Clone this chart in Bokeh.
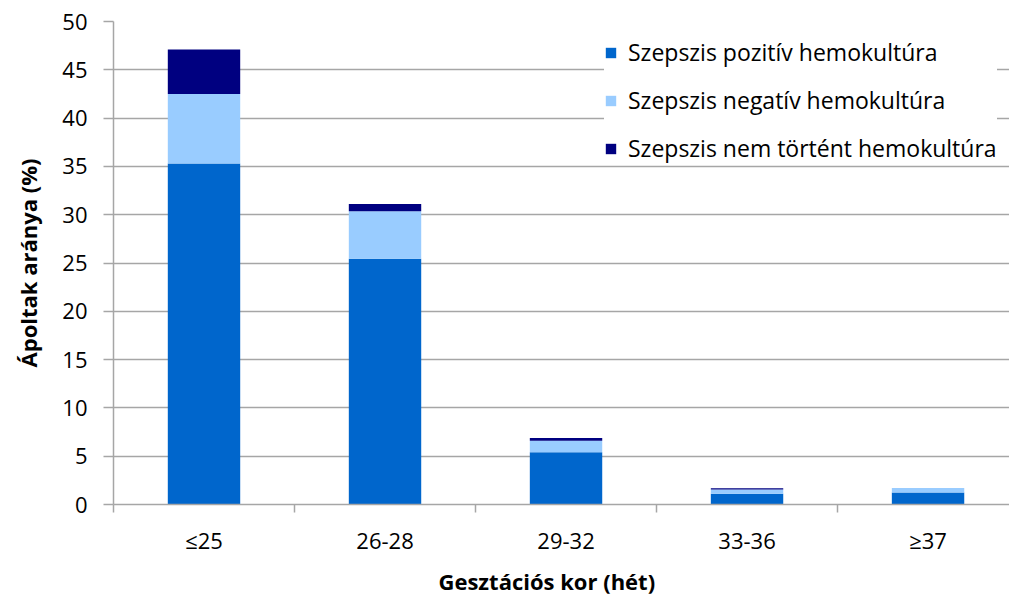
from bokeh.plotting import figure
from bokeh.models import ColumnDataSource, Range1d, FixedTicker, Legend, LegendItem, Title
from bokeh.embed import file_html
from bokeh.resources import INLINE

categories = ["≤25", "26-28", "29-32", "33-36", "≥37"]
pozitiv = [35.3, 25.45, 5.4, 1.1, 1.25]
negativ = [7.2, 4.9, 1.2, 0.45, 0.45]
nem_tortent = [4.6, 0.75, 0.28, 0.14, 0.0]
series_names = ["Szepszis pozitív hemokultúra", "Szepszis negatív hemokultúra", "Szepszis nem történt hemokultúra"]
colors = ["#0066CC", "#99CCFF", "#000080"]
y_ticks = [0, 5, 10, 15, 20, 25, 30, 35, 40, 45, 50]

FONT = "Open Sans"
FS = "22px"

source = ColumnDataSource(data=dict(
    x=list(range(len(categories))),
    pozitiv=pozitiv, negativ=negativ, nem=nem_tortent,
))

p = figure(width=1009, height=599, output_backend="svg", toolbar_location=None,
           x_range=Range1d(-0.5, 4.45), y_range=Range1d(0, 50),
           min_border_left=113, min_border_right=0, min_border_top=21, min_border_bottom=95)
p.frame_width = 896
p.frame_height = 483
p.outline_line_color = None

renderers = p.vbar_stack(["pozitiv", "negativ", "nem"], x="x", width=0.4, source=source,
                         color=colors, line_color=None)

legend = Legend(items=[LegendItem(label=n, renderers=[r]) for n, r in zip(series_names, renderers)],
                location=(491, 340))
legend.background_fill_color = "white"
legend.background_fill_alpha = 1
legend.border_line_color = None
legend.glyph_width = 13
legend.glyph_height = 13
legend.label_height = 24
legend.spacing = 16
legend.padding = 12
legend.label_standoff = 11
legend.label_text_font = FONT
legend.label_text_font_size = "23px"
legend.label_text_color = "#000000"
p.add_layout(legend)

# grid
p.xgrid.grid_line_color = None
p.ygrid.ticker = FixedTicker(ticks=y_ticks)
p.ygrid.grid_line_color = "#a6a6a6"
p.ygrid.grid_line_width = 1.5

# x axis
xa = p.xaxis[0]
xa.ticker = FixedTicker(ticks=[0, 1, 2, 3, 4], minor_ticks=[-0.5, 0.5, 1.5, 2.5, 3.5, 4.5])
xa.major_label_overrides = {i: c for i, c in enumerate(categories)}
xa.major_tick_line_color = None
xa.major_tick_out = 0
xa.major_tick_in = 0
xa.minor_tick_line_color = "#a6a6a6"
xa.minor_tick_line_width = 1.5
xa.minor_tick_out = 8
xa.minor_tick_in = 0
xa.axis_line_color = "#a6a6a6"
xa.axis_line_width = 1.5
xa.major_label_text_font = FONT
xa.major_label_text_font_size = FS
xa.major_label_text_color = "#000000"
xa.major_label_standoff = 12

xtitle = Title(text="Gesztációs kor (hét)", align="left", offset=325,
               text_font=FONT, text_font_size=FS, text_font_style="bold",
               text_color="#000000", standoff=12)
p.add_layout(xtitle, "below")

# y axis
ya = p.yaxis[0]
ya.ticker = FixedTicker(ticks=y_ticks)
ya.minor_tick_line_color = None
ya.major_tick_line_color = "#a6a6a6"
ya.major_tick_line_width = 1.5
ya.major_tick_out = 10
ya.major_tick_in = 0
ya.axis_line_color = "#a6a6a6"
ya.axis_line_width = 1.5
ya.major_label_text_font = FONT
ya.major_label_text_font_size = FS
ya.major_label_text_color = "#000000"
ya.major_label_standoff = 16
ya.axis_label = "Ápoltak aránya (%)"
ya.axis_label_text_font = FONT
ya.axis_label_text_font_size = FS
ya.axis_label_text_font_style = "bold"
ya.axis_label_text_color = "#000000"
ya.axis_label_standoff = 16

open("out.html", "w").write(file_html(p, INLINE))
